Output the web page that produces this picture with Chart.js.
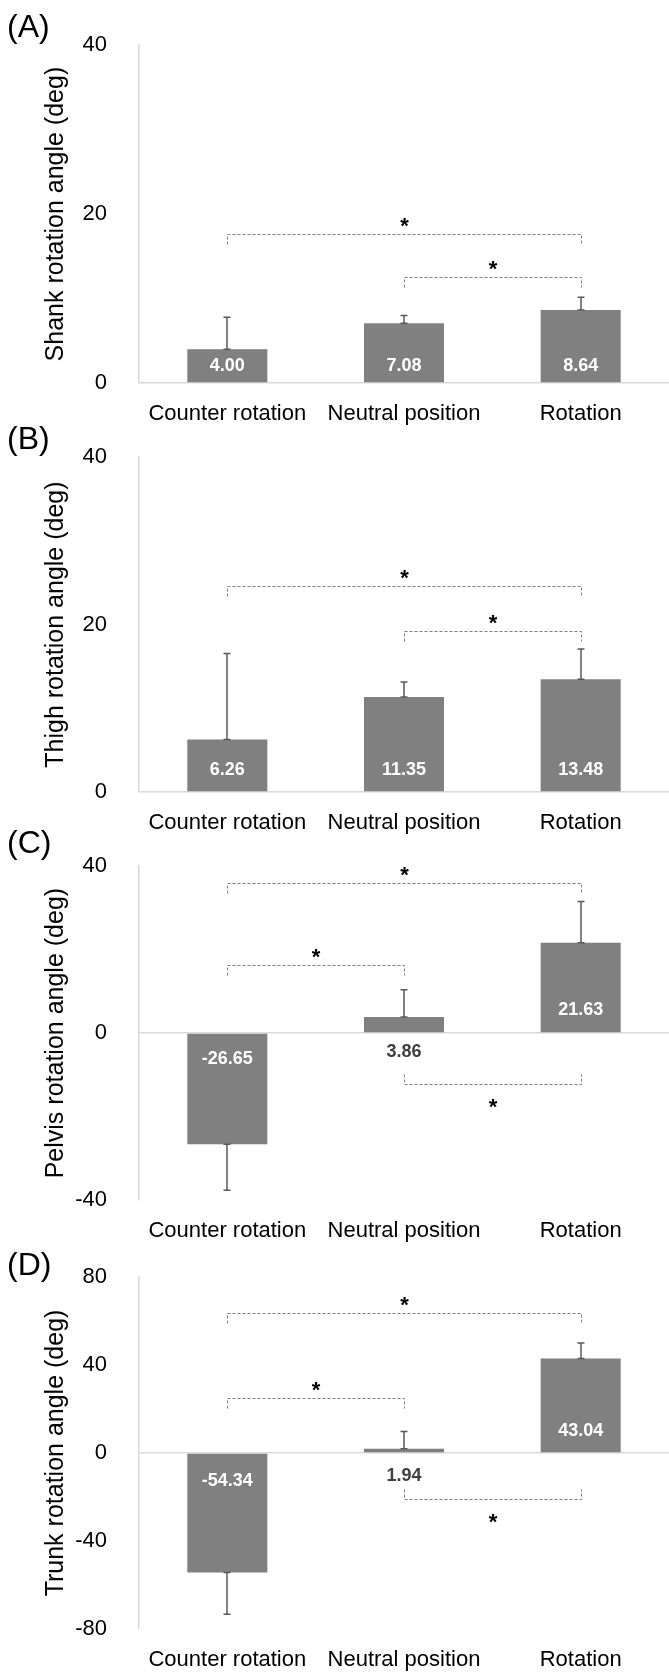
<!DOCTYPE html>
<html lang="en">
<head>
<meta charset="UTF-8" />
<title>Segment rotation angles</title>
<script src="https://cdn.jsdelivr.net/npm/chart.js"></script>
<style>
  body { margin: 0; background: #ffffff; }
  #wrap { position: relative; width: 669px; height: 1674px; overflow: hidden; }
  #wrap canvas { position: absolute; left: 0; }
</style>
</head>
<body>
<div id="wrap">
  <canvas id="chartA" width="669" height="440" style="top:0px"></canvas>
  <canvas id="chartB" width="669" height="440" style="top:412px"></canvas>
  <canvas id="chartC" width="669" height="440" style="top:821px"></canvas>
  <canvas id="chartD" width="669" height="442" style="top:1232px"></canvas>
</div>
<script>
const categories = ["Counter rotation", "Neutral position", "Rotation"];

// means and SDs (deg)
const shankMean = [4.00, 7.08, 8.64];
const shankSD = [3.8, 0.9, 1.5];
const thighMean = [6.26, 11.35, 13.48];
const thighSD = [10.3, 1.8, 3.6];
const pelvisMean = [-26.65, 3.86, 21.63];
const pelvisSD = [11.0, 6.5, 9.9];
const trunkMean = [-54.34, 1.94, 43.04];
const trunkSD = [19.0, 7.9, 7.0];

// y tick labels
const shankTicks = [0, 20, 40];
const thighTicks = [0, 20, 40];
const pelvisTicks = [-40, 0, 40];
const trunkTicks = [-80, -40, 0, 40, 80];

// significance brackets: [from category, to category, level in deg]
const shankBrackets = [[0, 2, 17.6], [1, 2, 12.5]];
const thighBrackets = [[0, 2, 24.6], [1, 2, 19.2]];
const pelvisBrackets = [[0, 2, 36.0], [0, 1, 16.4], [1, 2, -12.1]];
const trunkBrackets = [[0, 2, 63.5], [0, 1, 25.0], [1, 2, -21.0]];

const FONT = "'Liberation Sans', Arial, Helvetica, sans-serif";

const extrasPlugin = {
  id: "extras",
  afterDatasetsDraw(chart, args, opts) {
    const ctx = chart.ctx;
    const xs = chart.scales.x, ys = chart.scales.y;
    const meta = chart.getDatasetMeta(0);
    const values = chart.data.datasets[0].data;
    const zero = ys.getPixelForValue(0);
    ctx.save();

    // error bars (outward only, capped at both ends)
    ctx.strokeStyle = "#595959";
    ctx.lineWidth = 1.5;
    meta.data.forEach((bar, i) => {
      const v = values[i];
      const start = ys.getPixelForValue(v);
      const end = ys.getPixelForValue(v + Math.sign(v) * opts.sd[i]);
      const bx = Math.round(bar.x);
      ctx.beginPath();
      ctx.moveTo(bx, start); ctx.lineTo(bx, end);
      ctx.moveTo(bx - 3.5, end); ctx.lineTo(bx + 3.5, end);
      ctx.moveTo(bx - 3.5, start); ctx.lineTo(bx + 3.5, start);
      ctx.stroke();
    });

    // value labels
    ctx.font = "bold 18px " + FONT;
    ctx.textAlign = "center";
    ctx.textBaseline = "middle";
    meta.data.forEach((bar, i) => {
      const v = values[i];
      const h = Math.abs(bar.y - zero);
      let ty, col = "#ffffff";
      if (h < 25) { ty = zero + opts.off.out; col = "#404040"; }
      else if (v >= 0) ty = zero - opts.off.pos;
      else ty = zero + opts.off.neg;
      ctx.fillStyle = col;
      ctx.fillText(v.toFixed(2), bar.x, ty);
    });

    // brackets + stars
    opts.brackets.forEach(([a, b, level]) => {
      const x1 = Math.round(xs.getPixelForValue(a)) + 0.5;
      const x2 = Math.round(xs.getPixelForValue(b)) + 0.5;
      const ly = Math.round(ys.getPixelForValue(level)) + 0.5;
      const dir = level > 0 ? 1 : -1;
      ctx.strokeStyle = "#7f7f7f";
      ctx.lineWidth = 1;
      ctx.setLineDash([3, 2]);
      ctx.beginPath();
      ctx.moveTo(x1, ly + dir * 10);
      ctx.lineTo(x1, ly);
      ctx.lineTo(x2, ly);
      ctx.lineTo(x2, ly + dir * 10);
      ctx.stroke();
      ctx.setLineDash([]);
      const sy = dir > 0 ? ly - 13.5 : ly + 17;
      ctx.fillStyle = "#000000";
      ctx.font = "bold 22px " + FONT;
      ctx.textBaseline = "alphabetic";
      ctx.fillText("*", (x1 + x2) / 2, sy + 12);
    });

    // panel letter
    ctx.font = "32px " + FONT;
    ctx.textAlign = "left";
    ctx.textBaseline = "middle";
    ctx.fillStyle = "#000000";
    ctx.fillText(opts.letter, 7, opts.letterY);
    ctx.restore();
  }
};

function makePanel(id, letter, title, mean, sd, ticks, brackets, layout) {
  const canvas = document.getElementById(id);
  return new Chart(canvas.getContext("2d"), {
    type: "bar",
    data: {
      labels: categories,
      datasets: [{
        data: mean,
        backgroundColor: "#808080",
        borderWidth: 0,
        categoryPercentage: 1.0,
        barPercentage: 0.453
      }]
    },
    options: {
      responsive: false,
      animation: false,
      events: [],
      layout: { padding: { top: 40, left: 0, right: 0, bottom: 0 } },
      scales: {
        x: {
          grid: { display: false, drawTicks: false },
          border: { display: false },
          ticks: { color: "#000000", padding: 18, font: { family: FONT, size: 22 }, maxRotation: 0, autoSkip: false },
          afterFit(scale) { scale.height = canvas.height - layout.areaBottom; }
        },
        y: {
          min: ticks[0],
          max: ticks[ticks.length - 1],
          grid: {
            drawTicks: false,
            lineWidth: 1.5,
            color: (c) => (c.tick && c.tick.value === 0 ? "#d9d9d9" : "rgba(0,0,0,0)")
          },
          border: { display: true, color: "#d9d9d9", width: 1.5 },
          ticks: {
            stepSize: ticks[1] - ticks[0],
            color: "#000000",
            padding: 32,
            font: { family: FONT, size: 22 }
          },
          title: {
            display: true,
            text: title,
            color: "#000000",
            font: { family: FONT, size: 25 },
            padding: { top: 41, bottom: 0 }
          },
          afterFit(scale) { scale.width = 139; }
        }
      },
      plugins: {
        legend: { display: false },
        tooltip: { enabled: false },
        extras: { letter: letter, letterY: layout.letterY, sd: sd, brackets: brackets, off: layout.off }
      }
    },
    plugins: [extrasPlugin]
  });
}

makePanel("chartA", "(A)", "Shank rotation angle (deg)", shankMean, shankSD, shankTicks, shankBrackets,
  { areaBottom: 383, letterY: 28, off: { pos: 17, neg: 26, out: 19 } });
makePanel("chartB", "(B)", "Thigh rotation angle (deg)", thighMean, thighSD, thighTicks, thighBrackets,
  { areaBottom: 380, letterY: 28, off: { pos: 22, neg: 26, out: 19 } });
makePanel("chartC", "(C)", "Pelvis rotation angle (deg)", pelvisMean, pelvisSD, pelvisTicks, pelvisBrackets,
  { areaBottom: 379, letterY: 23, off: { pos: 23, neg: 26, out: 19 } });
makePanel("chartD", "(D)", "Trunk rotation angle (deg)", trunkMean, trunkSD, trunkTicks, trunkBrackets,
  { areaBottom: 398, letterY: 34, off: { pos: 22, neg: 28, out: 23 } });
</script>
</body>
</html>
